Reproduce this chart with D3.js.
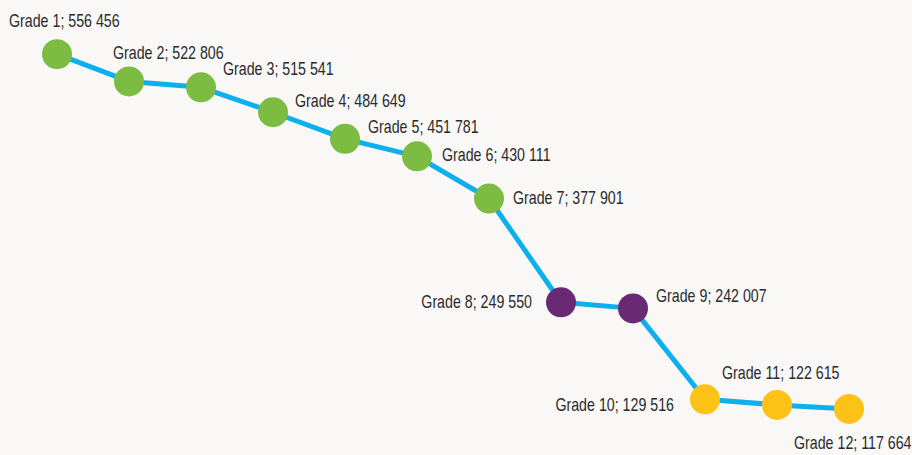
<!DOCTYPE html>
<meta charset="utf-8">
<style>
body { margin: 0; background: #f9f8f7; }
.label { font-family: "Liberation Sans", Arial, sans-serif; font-size: 18px; fill: #2b2b2b; }
</style>
<script src="https://d3js.org/d3.v7.min.js"></script>
<svg id="chart" width="912" height="455"></svg>
<script>
// data
var grades = ["Grade 1", "Grade 2", "Grade 3", "Grade 4", "Grade 5", "Grade 6",
              "Grade 7", "Grade 8", "Grade 9", "Grade 10", "Grade 11", "Grade 12"];
var learners = [556456, 522806, 515541, 484649, 451781, 430111,
                377901, 249550, 242007, 129516, 122615, 117664];
var phase = ["fp", "fp", "fp", "fp", "fp", "fp", "fp", "sp", "sp", "fet", "fet", "fet"];

// layout
var phaseColor = { fp: "#7dbc42", sp: "#692a73", fet: "#fdc218" };
// label offsets from the point: [dx, dy, anchor]
var labelPos = [[-48, -27, "start"], [-16, -22, "start"], [22, -12, "start"], [22, -5, "start"],
                [23, -6, "start"], [25, 5, "start"], [24, 5, "start"], [-29, 6, "end"],
                [23, -6, "start"], [-31, 12, "end"], [-55, -26, "start"], [-55, 40, "start"]];
var squeeze = 0.79; // no condensed font installed, so narrow the glyphs

var svg = d3.select("#chart");
svg.append("rect").attr("width", 912).attr("height", 455).attr("fill", "#f9f8f7");

var x = d3.scalePoint().domain(grades).range([57, 849]);
var y = d3.scaleLinear().domain([0, 600000]).range([504, 19]);

var fmt = function(v) { return d3.format(",")(v).replace(/,/g, " "); };

svg.append("path")
    .datum(learners)
    .attr("fill", "none")
    .attr("stroke", "#0cb0ec")
    .attr("stroke-width", 5)
    .attr("stroke-linejoin", "round")
    .attr("d", d3.line().x(function(d, i) { return x(grades[i]); }).y(function(d) { return y(d); }));

svg.selectAll("circle")
    .data(learners)
  .enter().append("circle")
    .attr("cx", function(d, i) { return x(grades[i]); })
    .attr("cy", function(d) { return y(d); })
    .attr("r", 15)
    .attr("fill", function(d, i) { return phaseColor[phase[i]]; });

svg.selectAll("g.lbl")
    .data(learners)
  .enter().append("g")
    .attr("class", "lbl")
    .attr("transform", function(d, i) {
      return "translate(" + (x(grades[i]) + labelPos[i][0]) + "," + (y(d) + labelPos[i][1]) + ") scale(" + squeeze + ",1)";
    })
  .append("text")
    .attr("class", "label")
    .attr("text-anchor", function(d, i) { return labelPos[i][2]; })
    .text(function(d, i) { return grades[i] + "; " + fmt(d); });
</script>
